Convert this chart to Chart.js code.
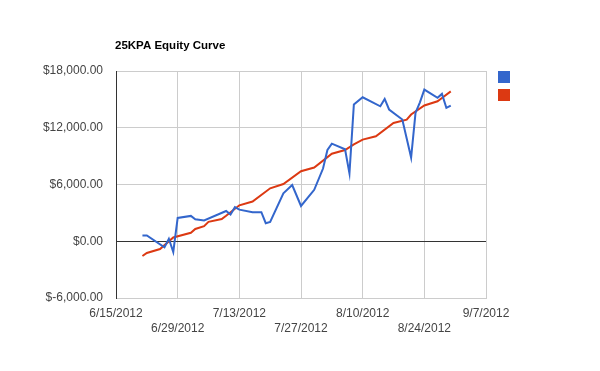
<!DOCTYPE html>
<html><head><meta charset="utf-8">
<script src="https://cdn.jsdelivr.net/npm/chart.js@4.4.0/dist/chart.umd.min.js"></script>
<style>html,body{margin:0;padding:0;background:#fff}canvas{display:block}</style>
</head><body>
<canvas id="c" width="600" height="371"></canvas>
<script>
const title = "25KPA Equity Curve";
const blueDates = ["6/21","6/22","6/26","6/27","6/28","6/29","7/2","7/3","7/5","7/10","7/11","7/12","7/13","7/16","7/18","7/19","7/20","7/23","7/25","7/27","7/30","8/1","8/2","8/3","8/6","8/7","8/8","8/10","8/14","8/15","8/16","8/19","8/21","8/22","8/23","8/24","8/27","8/28","8/29","8/30"];
const blueValues = [610,610,-650,260,-1135,2470,2680,2330,2190,3200,2820,3600,3340,3070,3070,1910,2050,5070,5940,3730,5440,7690,9650,10320,9720,7170,14450,15220,14270,15050,13930,12870,8850,13580,14690,16030,15160,15580,14100,14350];
const redDates = ["6/21","6/22","6/25","6/28","7/2","7/3","7/5","7/6","7/9","7/10","7/13","7/16","7/20","7/23","7/27","7/30","8/3","8/6","8/8","8/10","8/13","8/17","8/20","8/21","8/24","8/27","8/28","8/30"];
const redValues = [-1560,-1240,-820,400,900,1300,1600,2050,2350,2700,3800,4200,5600,6050,7400,7800,9250,9650,10250,10750,11100,12500,12850,13400,14350,14800,15150,15850];
const xTickLabels = ["6/15/2012","6/29/2012","7/13/2012","7/27/2012","8/10/2012","8/24/2012","9/7/2012"];
const yTicks = [-6000,0,6000,12000,18000];
const colors = ["#3366CC","#DC3912"];

const base = Date.UTC(2012,5,15);
function dayOf(s){const p=s.split("/");const d=Date.UTC(2012,+p[0]-1,+p[1]);return Math.round((d-base)/86400000);}
function pts(ds,vs){return ds.map((d,i)=>({x:dayOf(d),y:vs[i]}));}
function money(v){const a=Math.abs(v).toLocaleString("en-US",{minimumFractionDigits:2,maximumFractionDigits:2});return "$"+(v<0?"-":"")+a;}

const overlay = {
  id:"overlay",
  afterDraw(chart){
    const ctx=chart.ctx;
    ctx.save();
    ctx.fillStyle="#000";
    ctx.font="bold 11.5px 'Liberation Sans', Arial, sans-serif";
    ctx.textBaseline="middle";
    ctx.fillText(title,115,46);
    const a=chart.chartArea;
    chart.data.datasets.forEach((ds,i)=>{
      ctx.fillStyle=ds.borderColor;
      ctx.fillRect(a.right+12,a.top+i*18,12,12);
    });
    ctx.restore();
  }
};

const tickFont = {family:"'Liberation Sans', Arial, sans-serif",size:12,lineHeight:1.25};

new Chart(document.getElementById("c"),{
  type:"line",
  data:{datasets:[
    {label:"",data:pts(blueDates,blueValues),borderColor:colors[0],backgroundColor:colors[0],borderWidth:2,pointRadius:0,tension:0},
    {label:"",data:pts(redDates,redValues),borderColor:colors[1],backgroundColor:colors[1],borderWidth:2,pointRadius:0,tension:0}
  ]},
  options:{
    responsive:false,animation:false,
    layout:{padding:{top:71,right:114,bottom:0,left:0}},
    plugins:{legend:{display:false},title:{display:false},tooltip:{enabled:false}},
    scales:{
      x:{type:"linear",min:0,max:84,
        afterFit(s){s.height=73;},
        afterBuildTicks(s){s.ticks=xTickLabels.map((l,i)=>({value:i*14}));},
        ticks:{autoSkip:false,maxRotation:0,padding:8,color:"#444",font:tickFont,
          callback(v,i){const l=xTickLabels[i];return i%2? ["",l]:[l];}},
        grid:{color:"#ccc",drawTicks:false,lineWidth:1},
        border:{color:"#ccc"}
      },
      y:{min:-6000,max:18000,
        afterFit(s){s.width=116;},
        afterBuildTicks(s){s.ticks=yTicks.map(v=>({value:v}));},
        ticks:{padding:13,color:"#444",font:tickFont,callback:v=>money(v)},
        grid:{drawTicks:false,color:c=>c.tick&&c.tick.value===0?"#333":"#ccc",lineWidth:1},
        border:{color:"#333"}
      }
    }
  },
  plugins:[overlay]
});
</script>
</body></html>
